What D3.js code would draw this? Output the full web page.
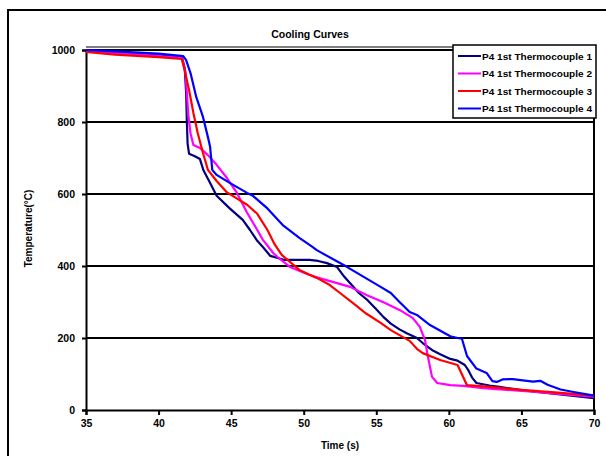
<!DOCTYPE html>
<html>
<head>
<meta charset="utf-8">
<script src="https://cdn.jsdelivr.net/npm/d3@7"></script>
<style>
html,body{margin:0;padding:0;background:#fff;}
svg{display:block;}
text{font-family:"Liberation Sans",Arial,sans-serif;font-weight:bold;fill:#000;}
</style>
</head>
<body>
<svg id="chart" width="606" height="456"></svg>
<script>
const title = "Cooling Curves";
const xLabel = "Time (s)";
const yLabel = "Temperature(°C)";
const xTicks = [35, 40, 45, 50, 55, 60, 65, 70];
const yTicks = [0, 200, 400, 600, 800, 1000];
const seriesNames = ["P4 1st Thermocouple 1", "P4 1st Thermocouple 2", "P4 1st Thermocouple 3", "P4 1st Thermocouple 4"];
const seriesColors = ["#000080", "#FF00FF", "#FF0000", "#0000FF"];

const tc1 = [[35,1000],[37,993],[40,987],[41.6,982],[41.8,950],[41.9,880],[41.95,800],[42.0,740],[42.1,712],[42.5,705],[42.85,697],[43.1,665],[43.5,635],[44.0,595],[44.9,560],[45.8,528],[46.3,500],[46.8,470],[47.2,452],[47.7,428],[48.4,420],[48.6,417],[50.4,417],[51.0,414],[51.6,408],[52.3,397],[52.8,370],[53.2,352],[53.8,325],[54.4,305],[55.0,280],[55.5,258],[56.0,240],[56.6,224],[57.1,213],[57.8,200],[58.2,186],[58.9,165],[59.4,155],[60.1,142],[60.6,137],[61.1,125],[61.35,110],[61.6,90],[61.9,75],[62.8,68],[63.5,64],[65,55],[67.5,44],[70,33]];
const tc2 = [[35,998],[38,990],[41.6,978],[41.85,940],[41.95,880],[42.05,820],[42.2,769],[42.4,736],[42.85,728],[43.4,708],[44.0,681],[44.7,645],[45.4,603],[46.1,548],[46.8,500],[47.2,472],[47.9,436],[48.2,425],[49.06,397],[50.4,375],[51.2,365],[52.0,356],[53.2,342],[54.36,319],[55.46,300],[56.6,278],[57.5,256],[58.0,231],[58.36,194],[58.56,147],[58.84,92],[59.2,75],[60.1,69],[61.0,67],[62.35,61],[64,56],[66,50],[68,43],[70,37]];
const tc3 = [[35,995],[37,987],[40,980],[41.6,975],[41.8,944],[42.1,889],[42.4,825],[42.7,769],[43.06,714],[43.4,667],[44.0,636],[44.7,605],[45.3,590],[46.1,570],[46.8,545],[47.5,500],[48.0,460],[48.5,430],[49.7,389],[50.9,367],[51.8,347],[52.5,325],[53.4,297],[54.3,268],[55.3,242],[56.0,222],[56.6,208],[57.3,192],[57.8,170],[58.2,158],[59.4,139],[60.6,125],[61.25,69],[62.8,64],[65,56],[67.5,48],[70,40]];
const tc4 = [[35,1000],[37,996],[40,990],[41.7,983],[41.9,972],[42.2,936],[42.6,869],[43.06,814],[43.4,758],[43.55,731],[43.7,667],[44.0,653],[44.9,631],[46.1,603],[46.5,595],[47.5,560],[48.6,512],[49.7,478],[50.6,453],[50.9,444],[53.0,397],[53.2,392],[55.3,342],[56.0,325],[56.6,300],[57.3,272],[57.8,264],[58.7,236],[60.1,205],[60.6,200],[60.9,198],[61.25,150],[61.9,115],[62.6,103],[63.0,80],[63.3,78],[63.7,85],[64.4,86],[65.8,79],[66.3,81],[66.8,70],[67.7,57],[68.6,50],[70,40]];
const seriesData = [tc1, tc2, tc3, tc4];

const svg = d3.select("#chart");
const L = 86, R = 594, T = 50, B = 410;
const x = d3.scaleLinear().domain([35, 70]).range([L, R]);
const y = d3.scaleLinear().domain([0, 1000]).range([B, T]);

// outer frame
svg.append("path").attr("d", "M8,456 L8,10 L606,10").attr("fill", "none").attr("stroke", "#000").attr("stroke-width", 2);

// title
svg.append("text").attr("x", 310).attr("y", 38).attr("text-anchor", "middle").attr("font-size", 10.5).text(title);

// plot top border
svg.append("line").attr("x1", L).attr("x2", R).attr("y1", 47).attr("y2", 47).attr("stroke", "#000").attr("stroke-width", 1.2);
svg.append("line").attr("x1", R).attr("x2", R).attr("y1", 47).attr("y2", B).attr("stroke", "#000").attr("stroke-width", 2);

// gridlines
svg.append("g").selectAll("line").data(yTicks.filter(d => d > 0)).join("line")
  .attr("x1", L).attr("x2", R).attr("y1", d => y(d)).attr("y2", d => y(d))
  .attr("stroke", "#000").attr("stroke-width", 2);

// axes
const yAxis = d3.axisLeft(y).tickValues(yTicks).tickSize(4).tickPadding(7).tickFormat(d3.format("d"));
const gy = svg.append("g").attr("transform", `translate(${L},0)`).call(yAxis);
const xAxis = d3.axisBottom(x).tickValues(xTicks).tickSize(5).tickPadding(5).tickFormat(d3.format("d"));
const gx = svg.append("g").attr("transform", `translate(0,${B})`).call(xAxis);
[gx, gy].forEach(g => {
  g.select(".domain").attr("stroke", "#000").attr("stroke-width", 2);
  g.selectAll(".tick line").attr("stroke", "#000").attr("stroke-width", 2);
  g.selectAll(".tick text").attr("font-size", 10.5).attr("font-family", "Liberation Sans, Arial, sans-serif").attr("font-weight", "bold").attr("fill", "#000");
});

// axis titles
svg.append("text").attr("x", (L + R) / 2).attr("y", 449).attr("text-anchor", "middle").attr("font-size", 10).text(xLabel);
svg.append("text").attr("transform", `translate(32,${(47 + B) / 2}) rotate(-90)`).attr("text-anchor", "middle").attr("font-size", 10).text(yLabel);

// lines
const line = d3.line().x(d => x(d[0])).y(d => y(d[1]));
svg.append("g").selectAll("path").data(seriesData).join("path")
  .attr("d", line).attr("fill", "none")
  .attr("stroke", (d, i) => seriesColors[i]).attr("stroke-width", 2.2)
  .attr("stroke-linejoin", "round");

// legend
const lg = svg.append("g");
lg.append("rect").attr("x", 453).attr("y", 45).attr("width", 143).attr("height", 73)
  .attr("fill", "#fff").attr("stroke", "#000").attr("stroke-width", 1.5);
const rows = lg.selectAll("g.row").data(seriesNames).join("g").attr("class", "row")
  .attr("transform", (d, i) => `translate(0,${56 + i * 17.5})`);
rows.append("line").attr("x1", 458).attr("x2", 481).attr("y1", 0).attr("y2", 0)
  .attr("stroke", (d, i) => seriesColors[i]).attr("stroke-width", 2);
rows.append("text").attr("x", 482).attr("y", 3.5).attr("font-size", 9)
  .attr("textLength", 110).attr("lengthAdjust", "spacingAndGlyphs").text(d => d);
</script>
</body>
</html>
